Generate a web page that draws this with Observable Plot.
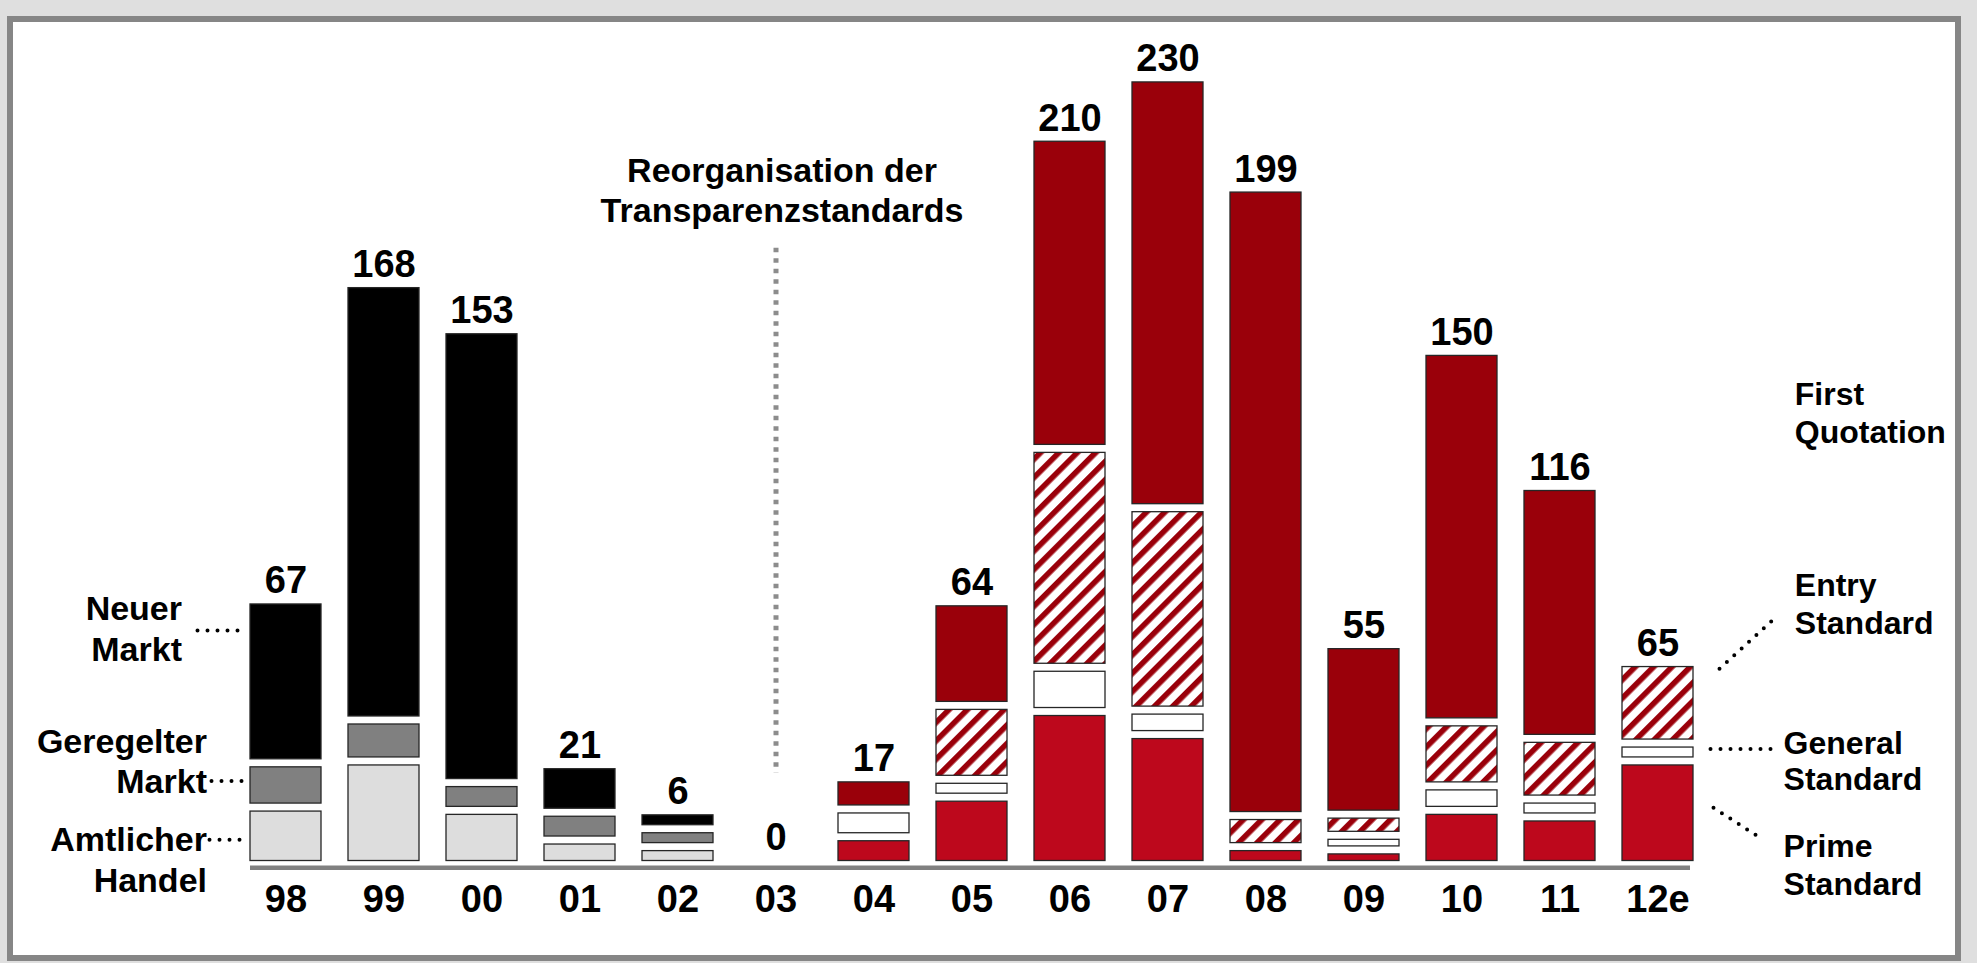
<!DOCTYPE html>
<html>
<head>
<meta charset="utf-8">
<script src="https://cdn.jsdelivr.net/npm/d3@7"></script>
<script src="https://cdn.jsdelivr.net/npm/@observablehq/plot@0.6"></script>
<style>
  html, body { margin: 0; padding: 0; background: #dfdfdf; width: 1977px; height: 963px; overflow: hidden; }
  #frame { position: absolute; left: 7px; top: 16px; width: 1954px; height: 945px; box-sizing: border-box; border: 6px solid #868686; background: #fff; }
  #chart { position: absolute; left: 0; top: 0; }
</style>
</head>
<body>
<div id="frame"></div>
<div id="chart"></div>
<script>
// ---------- DATA ----------
const years  = ["98", "99", "00", "01", "02", "03", "04", "05", "06", "07", "08", "09", "10", "11", "12e"];
const totals = [67, 168, 153, 21, 6, 0, 17, 64, 210, 230, 199, 55, 150, 116, 65];

// segment values, bottom to top
const amtlicherHandel = [15, 29, 14, 5, 3, 0, 0, 0, 0, 0, 0, 0, 0, 0, 0];
const geregelterMarkt = [11, 10, 6, 6, 3, 0, 0, 0, 0, 0, 0, 0, 0, 0, 0];
const neuerMarkt      = [47, 130, 135, 12, 3, 0, 0, 0, 0, 0, 0, 0, 0, 0, 0];
const primeStandard   = [0, 0, 0, 0, 0, 0, 6, 18, 44, 37, 3, 2, 14, 12, 29];
const generalStandard = [0, 0, 0, 0, 0, 0, 6, 3, 11, 5, 0, 2, 5, 3, 3];
const entryStandard   = [0, 0, 0, 0, 0, 0, 0, 20, 64, 59, 7, 4, 17, 16, 22];
const firstQuotation  = [0, 0, 0, 0, 0, 0, 7, 29, 92, 128, 188, 49, 110, 74, 0];

const seriesNames  = ["Amtlicher Handel", "Geregelter Markt", "Neuer Markt", "Prime Standard", "General Standard", "Entry Standard", "First Quotation"];
const seriesLabels = ["Amtlicher\nHandel", "Geregelter\nMarkt", "Neuer\nMarkt", "Prime\nStandard", "General\nStandard", "Entry\nStandard", "First\nQuotation"];
const seriesValues = [amtlicherHandel, geregelterMarkt, neuerMarkt, primeStandard, generalStandard, entryStandard, firstQuotation];

const reorgYear  = "03";
const reorgLabel = "Reorganisation der\nTransparenzstandards";

// ---------- STYLE ----------
const seriesFill = ["#dddddd", "#808080", "#000000", "#bd081c", "#ffffff", "url(#hatch)", "#9a000a"];
const GAP = 2.43; // visual gap between stacked segments, in value units
const FONT = "'Liberation Sans', Arial, Helvetica, sans-serif";

// label placement (offsets in px relative to the anchor bar / segment)
const legendSpec = [
  {series: "Neuer Markt",      year: "98",  anchor: "end",   dx: -104,  dy: -21,  fs: 34, lh: 1.21, leader: [[-88, -51], [-40, -51]]},
  {series: "Geregelter Markt", year: "98",  anchor: "end",   dx: -79,   dy: 8,    fs: 34, lh: 1.18, leader: [[-74, -4], [-38, -4]]},
  {series: "Amtlicher Handel", year: "98",  anchor: "end",   dx: -79,   dy: 56,   fs: 34, lh: 1.22, leader: [[-76, 4], [-42, 4]]},
  {series: "First Quotation",  year: "12e", anchor: "start", dx: 136.8, dy: -224, fs: 32, lh: 1.19, leader: null},
  {series: "Entry Standard",   year: "12e", anchor: "start", dx: 136.8, dy: -69,  fs: 32, lh: 1.19, leader: [[62, -34], [120, -87]]},
  {series: "General Standard", year: "12e", anchor: "start", dx: 125.6, dy: 38,   fs: 32, lh: 1.15, leader: [[53, -3], [114, -3]]},
  {series: "Prime Standard",   year: "12e", anchor: "start", dx: 125.6, dy: 82,   fs: 32, lh: 1.2,  leader: [[56, -5], [104, 26]]}
];

// ---------- LAYOUT (stack with gaps) ----------
const rows = [];
const tops = [];
years.forEach((year, i) => {
  let y = 0, any = false;
  seriesNames.forEach((s, j) => {
    const v = seriesValues[j][i];
    if (v > 0) {
      if (any) y += GAP;
      rows.push({year, series: s, y1: y, y2: y + v, value: v});
      y += v;
      any = true;
    } else {
      rows.push({year, series: s, y1: y, y2: y, value: 0});
    }
  });
  tops.push({year, top: y, label: totals[i]});
});
const segMid = (year, series) => {
  const r = rows.find(d => d.year === year && d.series === series);
  return (r.y1 + r.y2) / 2;
};

const legendRows = legendSpec.map(l => ({
  ...l,
  text: seriesLabels[seriesNames.indexOf(l.series)],
  mid: segMid(l.year, l.series)
}));

// ---------- MARKS ----------
const marks = [];
seriesNames.forEach((s, j) => {
  marks.push(Plot.barY(rows.filter(d => d.series === s && d.value > 0), {
    x: "year", y1: "y1", y2: "y2",
    fill: seriesFill[j], stroke: "#262626", strokeWidth: 1.3
  }));
});

marks.push(Plot.ruleY([0], {stroke: "#808080", strokeWidth: 4.5, dy: 6.7, insetLeft: 15, insetRight: 18}));

marks.push(Plot.ruleX([reorgYear], {
  stroke: "#8c8c8c", strokeWidth: 5, strokeDasharray: "4.5,6",
  insetTop: 211, insetBottom: 87.5
}));
marks.push(Plot.text([reorgLabel], {
  x: () => reorgYear, text: d => d, frameAnchor: "top", lineAnchor: "top",
  dy: 116, dx: 6, fontSize: 34, lineHeight: 1.18, fill: "#000"
}));

marks.push(Plot.text(tops, {
  x: "year", y: "top", text: d => String(d.label),
  lineAnchor: "bottom", dy: -11, fontSize: 38, fill: "#000"
}));

legendRows.forEach(l => {
  marks.push(Plot.text([l], {
    x: "year", y: "mid", text: "text",
    textAnchor: l.anchor, lineAnchor: "bottom",
    dx: l.dx, dy: l.dy, fontSize: l.fs, lineHeight: l.lh, fill: "#000"
  }));
});

marks.push(Plot.axisX({tickSize: 0, tickPadding: 24.5, fontSize: 38, fontWeight: "bold", fill: "#000", label: null}));

const plot = Plot.plot({
  width: 1977,
  height: 963,
  marginLeft: 235,
  marginRight: 269,
  marginTop: 36.75,
  marginBottom: 102.5,
  style: {background: "transparent", fontFamily: FONT, fontWeight: "bold", color: "#000", overflow: "visible"},
  x: {domain: years, paddingInner: 0.277, paddingOuter: 0.1385, label: null},
  y: {domain: [0, 250], axis: null},
  marks
});

// hatch pattern
d3.select(plot).insert("defs", ":first-child").html(
  `<pattern id="hatch" patternUnits="userSpaceOnUse" width="13" height="13" patternTransform="rotate(45)">
     <rect width="13" height="13" fill="#ffffff"></rect>
     <rect width="5.6" height="13" fill="#9a000a"></rect>
   </pattern>`
);

// dotted leader lines, positioned through the plot's scales
const xs = plot.scale("x");
const ys = plot.scale("y");
const g = d3.select(plot).append("g").attr("class", "leaders");
legendRows.filter(l => l.leader).forEach(l => {
  const cx = xs.apply(l.year) + xs.bandwidth / 2;
  const cy = ys.apply(l.mid);
  const [[ax, ay], [bx, by]] = l.leader;
  g.append("path")
    .attr("d", `M${cx + ax},${cy + ay}L${cx + bx},${cy + by}`)
    .attr("stroke", "#000")
    .attr("stroke-width", 4)
    .attr("stroke-linecap", "round")
    .attr("stroke-dasharray", "0 10")
    .attr("fill", "none");
});

document.getElementById("chart").appendChild(plot);
</script>
</body>
</html>
